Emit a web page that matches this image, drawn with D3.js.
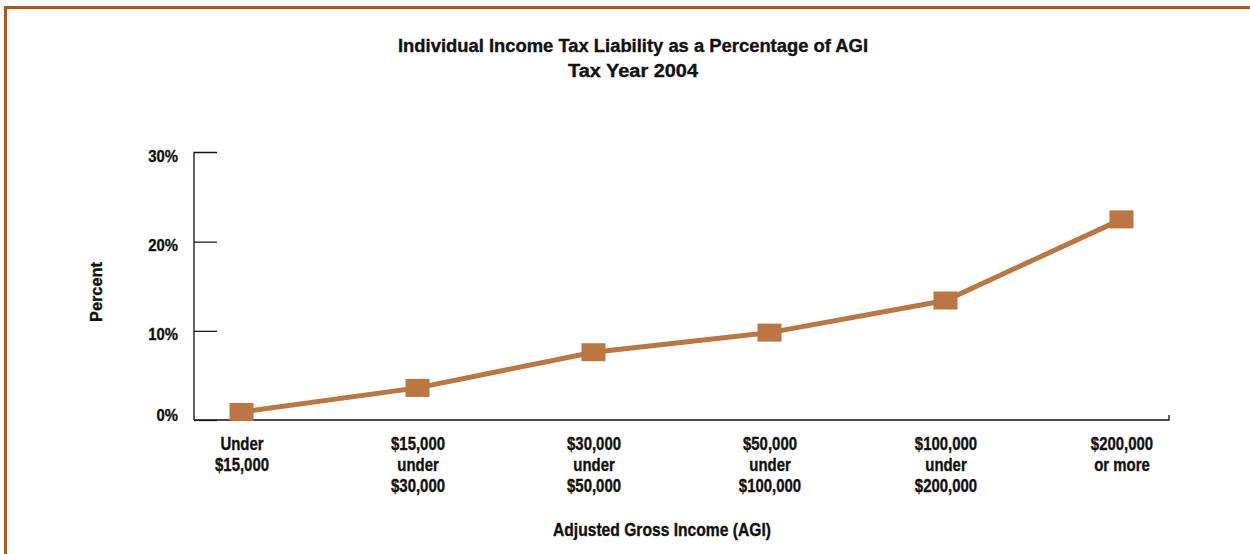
<!DOCTYPE html>
<html>
<head>
<meta charset="utf-8">
<script src="https://cdn.jsdelivr.net/npm/d3@7"></script>
<style>
  body { margin: 0; background: #fff; }
  svg { display: block; }
  text { font-family: "Liberation Sans", Arial, sans-serif; font-weight: bold; fill: #111; stroke: #111; stroke-width: 0.35px; }
</style>
</head>
<body>
<svg id="chart" width="1250" height="554"></svg>
<script>
const categories = [
  ["Under", "$15,000"],
  ["$15,000", "under", "$30,000"],
  ["$30,000", "under", "$50,000"],
  ["$50,000", "under", "$100,000"],
  ["$100,000", "under", "$200,000"],
  ["$200,000", "or more"]
];
const percentValues = [0.9, 3.6, 7.6, 9.8, 13.4, 22.5];
const yTicks = [0, 10, 20, 30];
const titleLines = ["Individual Income Tax Liability as a Percentage of AGI", "Tax Year 2004"];
const xTitle = "Adjusted Gross Income (AGI)";
const yTitle = "Percent";

(function () {
const svg = d3.select("#chart");
const color = "#BC7641";
const condense = 0.83;

// frame
svg.append("path")
  .attr("d", "M5.5,554 V7.5 H1250")
  .attr("fill", "none")
  .attr("stroke", "#B3561B")
  .attr("stroke-width", 3);

const pLeft = 194, pRight = 1169, pTop = 152.5, pBottom = 420;
const keys = categories.map((c, i) => i);
const x = d3.scalePoint().domain(keys).range([pLeft, pRight]).padding(0.27);
const y = d3.scaleLinear().domain([0, 30]).range([pBottom, pTop]);

// title
const titleLens = [470, 130];
titleLines.forEach((t, i) => {
  svg.append("text")
    .attr("x", 633).attr("y", 52 + i * 25)
    .attr("text-anchor", "middle")
    .attr("textLength", titleLens[i]).attr("lengthAdjust", "spacingAndGlyphs")
    .style("font-size", "18px")
    .text(t);
});

// y axis
const yAxis = svg.append("g").attr("transform", `translate(${pLeft},0)`)
  .call(d3.axisRight(y).tickValues(yTicks).tickSize(23).tickFormat(d => d + "%"));
yAxis.select(".domain").attr("d", `M23,${pTop}H0V${pBottom}`).attr("stroke", "#111").attr("stroke-width", 1.3);
yAxis.selectAll(".tick line").attr("stroke", "#222").attr("stroke-width", 1.3);
yAxis.selectAll(".tick text").remove();
yAxis.selectAll(".tick").append("text")
  .attr("text-anchor", "end")
  .attr("transform", d => `translate(-16,${d === 0 ? 0 : 8.5}) scale(0.9,1)`)
  .style("font-size", "16.5px")
  .text(d => d + "%");
yAxis.selectAll(".tick").filter(d => d === 30).select("line").remove();

// x axis
const xAxis = svg.append("g").attr("transform", `translate(0,${pBottom})`)
  .call(d3.axisBottom(x).tickSize(0).tickFormat(""));
xAxis.select(".domain").attr("d", `M${pLeft},0H${pRight}V-5`).attr("stroke", "#111").attr("stroke-width", 1.3);

xAxis.selectAll(".tick text").remove();
xAxis.selectAll(".tick").append("text")
  .attr("text-anchor", "middle")
  .attr("transform", `translate(0,30) scale(${condense},1)`)
  .style("font-size", "18px")
  .selectAll("tspan").data(d => categories[d]).join("tspan")
  .attr("x", 0).attr("dy", (d, i) => i ? 21 : 0)
  .text(d => d);

// axis titles
svg.append("text").attr("x", 662).attr("y", 536).attr("text-anchor", "middle")
  .attr("textLength", 218).attr("lengthAdjust", "spacingAndGlyphs")
  .style("font-size", "18px").text(xTitle);
svg.append("text").attr("transform", "translate(102,292) rotate(-90)").attr("text-anchor", "middle")
  .attr("textLength", 60).attr("lengthAdjust", "spacingAndGlyphs")
  .style("font-size", "16px").text(yTitle);

// line
const line = d3.line().x((d, i) => x(i)).y(d => y(d));
svg.append("path").datum(percentValues)
  .attr("d", line).attr("fill", "none")
  .attr("stroke", color).attr("stroke-width", 5);

svg.selectAll("rect.marker").data(percentValues).join("rect")
  .attr("class", "marker")
  .attr("x", (d, i) => x(i) - 12).attr("y", d => y(d) - 9)
  .attr("width", 24).attr("height", 18)
  .attr("fill", color);
})();
</script>
</body>
</html>
